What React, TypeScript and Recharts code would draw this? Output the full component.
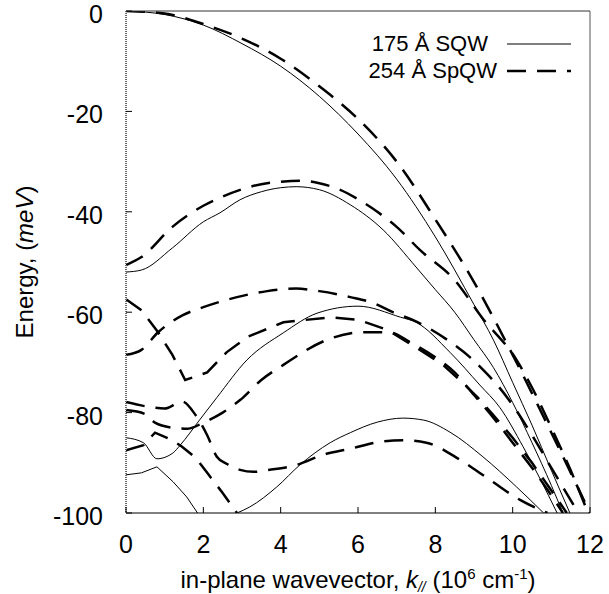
import React from "react";
import { LineChart, Line, XAxis, YAxis } from "recharts";

type Pt = [number, number];

const xTicks = [0, 2, 4, 6, 8, 10, 12];
const yTicks = [0, -20, -40, -60, -80, -100];

// 175 Å SQW subbands (solid) — [k, E]
const sqwA: Pt[] = [[0, 0], [1, -0.7], [2, -2.8], [3, -6.5], [4, -11], [5, -17], [6, -24.5], [7, -33.5], [8, -45], [9, -58.5], [9.5, -65.5], [10, -74], [10.5, -82.5], [11, -91.5], [11.48, -100]];
const sqwB: Pt[] = [[0, -52], [0.4, -51.6], [1.2, -47.2], [2, -42], [2.43, -40.2], [2.95, -37.6], [3.5, -36], [4, -35.2], [4.4, -35], [5, -35.6], [5.8, -38.6], [6.65, -43.6], [7.5, -51], [8, -55.5], [8.5, -60], [9, -65.5], [9.5, -71], [10, -78], [10.5, -86], [11, -94.5], [11.3, -100]];
const sqwC: Pt[] = [[0, -85], [0.45, -86], [0.8, -89.2], [1.22, -88], [1.4, -86.5], [1.9, -81.5], [2.35, -77], [3.13, -69.5], [4.07, -64.1], [4.94, -60.2], [6, -58.8], [7.1, -61], [7.5, -62], [8.38, -68], [9.15, -74.5], [9.67, -79], [10.27, -86.8], [11.15, -100]];
const sqwD: Pt[] = [[2.87, -100], [3.2, -98.8], [3.9, -94.8], [4.5, -90.4], [5.28, -86], [5.8, -84], [6.5, -81.9], [7.16, -81.1], [7.7, -81.5], [8.38, -83.9], [9.23, -88.8], [10.1, -94.8], [10.8, -100]];
const sqwE: Pt[] = [[0, -92.4], [0.4, -92], [0.8, -90.8], [1.22, -93.8], [1.57, -96.8], [1.85, -100]];

// 254 Å SpQW subbands (dashed)
const spqwA: Pt[] = [[0, 0], [1, -0.5], [2, -2.6], [3, -5.5], [4, -9.5], [5, -15], [6, -21.5], [7, -30], [8, -41.5], [9, -54], [10, -68.5], [11, -84], [12, -100]];
const spqwB: Pt[] = [[0, -50.6], [0.4, -49], [1.2, -43], [2, -38.8], [2.43, -37.2], [3, -35.5], [3.5, -34.5], [4, -34], [4.5, -33.8], [5, -34.3], [5.5, -35.5], [6, -37.5], [6.5, -40], [7, -43], [7.6, -47.6], [8.5, -53.6], [9.2, -61], [10.1, -69.5], [10.5, -75], [11, -83], [11.5, -91.5], [11.95, -100]];
const spqwC: Pt[] = [[0, -68.5], [0.4, -67.5], [0.83, -64], [1.47, -60.6], [2, -59], [2.87, -57], [3.65, -55.8], [4.4, -55.3], [5, -55.8], [5.8, -57], [6.4, -58.2], [6.9, -60], [7.4, -61.5], [7.9, -63.5], [8.4, -66], [8.9, -69], [9.3, -72], [9.6, -74.5], [10, -78.5], [10.5, -84.5], [11, -91], [11.7, -100]];
const spqwD: Pt[] = [[0, -57.4], [0.4, -59.6], [0.83, -64], [1.2, -68.5], [1.53, -73.5], [2.1, -72], [2.6, -68], [3.15, -64.9], [4.07, -62], [5.3, -61], [6, -61.5], [6.75, -63.5], [7.5, -67], [8.2, -70.5], [8.7, -74], [9.1, -77], [9.5, -80.5], [10, -85], [10.5, -90], [11, -95.5], [11.4, -100]];
const spqwE: Pt[] = [[0, -79.5], [0.5, -80.3], [0.75, -82], [1.2, -83], [1.6, -83.2], [2, -82], [2.5, -80], [2.95, -77.5], [3.5, -73.5], [4.07, -70.5], [5.2, -65.5], [6.1, -64], [6.8, -64], [7.35, -66], [8, -69], [8.5, -72], [9, -76.5], [9.5, -81], [10, -86], [10.5, -91], [11, -96.5], [11.3, -100]];
const spqwF: Pt[] = [[0, -77.9], [0.55, -78.8], [1, -79.2], [1.45, -77.8], [1.8, -80.5], [2.1, -84.5], [2.35, -88.8], [2.6, -90.2], [2.95, -91.4], [3.3, -91.8], [3.72, -91.4], [4.42, -90.4], [5.1, -88.4], [5.8, -87.2], [6.5, -85.9], [7.16, -85.5], [7.77, -86], [8.64, -89.4], [9.41, -93.4], [10.19, -97.4], [10.9, -100]];
const spqwG: Pt[] = [[0, -87.5], [0.45, -86.5], [0.75, -84], [1.2, -85.5], [1.45, -86.8], [1.8, -89], [2.1, -92], [2.5, -96], [2.87, -100]];

const solidCurves = [sqwA, sqwB, sqwC, sqwD, sqwE];
const dashedCurves = [spqwA, spqwB, spqwC, spqwD, spqwE, spqwF, spqwG];
// kinky low-k branches are drawn point to point
const kinky = [sqwE, spqwD, spqwG];

const rows = (pts: Pt[]) => pts.map(([k, e]) => ({ k, e }));

const FONT = "'Liberation Sans', Arial, sans-serif";
const DASH = "19 11";

const BottomTick = (p: any) => (
  <g>
    <line x1={p.x} x2={p.x} y1={p.y} y2={p.y - 6} stroke="#000" />
    <text x={p.x} y={p.y + 40} textAnchor="middle" fontSize={25} fontFamily={FONT} fill="#000">
      {p.payload.value}
    </text>
  </g>
);
const TopTick = (p: any) => <line x1={p.x} x2={p.x} y1={p.y} y2={p.y + 6} stroke="#000" />;
const LeftTick = (p: any) => (
  <g>
    <line x1={p.x} x2={p.x + 6} y1={p.y} y2={p.y} stroke="#000" />
    <text x={p.x - 23} y={p.y} dy="0.48em" textAnchor="end" fontSize={25} fontFamily={FONT} fill="#000">
      {p.payload.value}
    </text>
  </g>
);
const RightTick = (p: any) => <line x1={p.x} x2={p.x - 6} y1={p.y} y2={p.y} stroke="#000" />;

const XTitle = (p: any) => {
  const vb = p.viewBox;
  return (
    <text x={vb.x + vb.width / 2} y={vb.y + 75} textAnchor="middle" fontSize={24} fontFamily={FONT} fill="#000">
      in-plane wavevector, <tspan fontStyle="italic">k</tspan>
      <tspan fontStyle="italic" fontSize={14} dy={4}>//</tspan>
      <tspan dy={-4}> (10</tspan>
      <tspan fontSize={15} dy={-9}>6</tspan>
      <tspan dy={9}> cm</tspan>
      <tspan fontSize={15} dy={-9}>-1</tspan>
      <tspan dy={9}>)</tspan>
    </text>
  );
};

const YTitle = (p: any) => {
  const vb = p.viewBox;
  const cx = vb.x + 33;
  const cy = vb.y + vb.height / 2;
  return (
    <text x={cx} y={cy} transform={`rotate(-90, ${cx}, ${cy})`} textAnchor="middle" fontSize={24} fontFamily={FONT} fill="#000">
      Energy, (<tspan fontStyle="italic">meV</tspan>)
    </text>
  );
};

export default function App() {
  return (
    <div style={{ position: "absolute", left: 0, top: 0, width: 609, height: 594, background: "#fff" }}>
      <LineChart width={609} height={594} margin={{ top: 10, right: 18, bottom: 0, left: 0 }}>
        <XAxis
          xAxisId="b"
          dataKey="k"
          type="number"
          domain={[0, 12]}
          ticks={xTicks}
          allowDataOverflow
          height={81}
          tickSize={0}
          tickMargin={0}
          tick={<BottomTick />}
          tickLine={false}
          axisLine={{ stroke: "#000", strokeWidth: 1.2 }}
          label={{ content: <XTitle /> }}
        />
        <XAxis
          xAxisId="t"
          orientation="top"
          dataKey="k"
          type="number"
          domain={[0, 12]}
          ticks={xTicks}
          height={1}
          tickSize={0}
          tickMargin={0}
          tick={<TopTick />}
          tickLine={false}
          axisLine={{ stroke: "#333" }}
        />
        <YAxis
          yAxisId="l"
          type="number"
          domain={[-100, 0]}
          ticks={yTicks}
          allowDataOverflow
          width={126}
          tickSize={0}
          tickMargin={0}
          tick={<LeftTick />}
          tickLine={false}
          axisLine={{ stroke: "#666", strokeWidth: 2, strokeDasharray: "1 1" }}
          label={{ content: <YTitle /> }}
        />
        <YAxis
          yAxisId="r"
          orientation="right"
          type="number"
          domain={[-100, 0]}
          ticks={yTicks}
          width={1}
          tickSize={0}
          tickMargin={0}
          tick={<RightTick />}
          tickLine={false}
          axisLine={{ stroke: "#555" }}
        />
        {solidCurves.map((c, i) => (
          <Line
            key={"s" + i}
            xAxisId="b"
            yAxisId="l"
            data={rows(c)}
            dataKey="e"
            type={kinky.includes(c) ? "linear" : "monotone"}
            stroke="#000"
            strokeWidth={1}
            dot={false}
            isAnimationActive={false}
          />
        ))}
        {dashedCurves.map((c, i) => (
          <Line
            key={"d" + i}
            xAxisId="b"
            yAxisId="l"
            data={rows(c)}
            dataKey="e"
            type={kinky.includes(c) ? "linear" : "monotone"}
            stroke="#000"
            strokeWidth={2.5}
            strokeDasharray={DASH}
            dot={false}
            isAnimationActive={false}
          />
        ))}
      </LineChart>
      <svg width={609} height={594} style={{ position: "absolute", left: 0, top: 0, pointerEvents: "none" }}>
        <text x={488} y={51} textAnchor="end" fontSize={22} fontFamily={FONT}>175 Å SQW</text>
        <line x1={507} x2={571} y1={44} y2={44} stroke="#000" strokeWidth={1} />
        <text x={497} y={78} textAnchor="end" fontSize={22} fontFamily={FONT}>254 Å SpQW</text>
        <line x1={507} x2={571} y1={71} y2={71} stroke="#000" strokeWidth={2.5} strokeDasharray={DASH} />
      </svg>
    </div>
  );
}
